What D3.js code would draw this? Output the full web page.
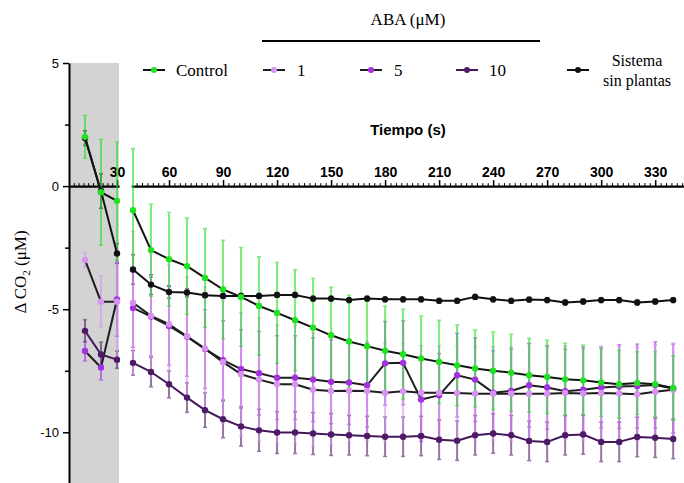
<!DOCTYPE html>
<html lang="es">
<head>
<meta charset="UTF-8">
<title>Delta CO2 - ABA</title>
<script src="https://cdn.jsdelivr.net/npm/d3@7"></script>
<style>
  body { margin: 0; background: #fff; }
  .sans { font-family: "Liberation Sans", Arial, sans-serif; }
  .serif { font-family: "Liberation Serif", "Times New Roman", serif; }
  .axis path, .axis line { stroke: #000; }
</style>
</head>
<body>
<div id="chart"></div>
<script>
// tiempos (s): 10-30 antes del corte del eje, 40-340 despues
const tiempo = [10, 20, 30, 40, 50, 60, 70, 80, 90, 100, 110, 120, 130, 140, 150, 160, 170,
  180, 190, 200, 210, 220, 230, 240, 250, 260, 270, 280, 290, 300, 310, 320, 330, 340];

const control = [2.0, -0.25, -0.6, -0.98, -2.6, -2.97, -3.25, -3.73, -4.2, -4.5, -4.87, -5.15,
  -5.45, -5.75, -6.06, -6.31, -6.5, -6.69, -6.83, -7.0, -7.14, -7.28, -7.41, -7.5, -7.58, -7.68,
  -7.75, -7.85, -7.89, -7.98, -8.05, -8.0, -8.05, -8.2];
const controlErr = [0.87, 2.15, 2.4, 2.5, 1.87, 1.9, 1.95, 2.0, 2.0, 2.0, 2.0, 2.05, 2.05, 2.0,
  1.95, 1.88, 1.87, 1.81, 1.83, 1.72, 1.69, 1.64, 1.56, 1.58, 1.56, 1.5, 1.49, 1.47, 1.43, 1.38,
  1.38, 1.27, 1.32, 1.31];

const aba1 = [-3.0, -4.7, -4.7, -4.74, -5.27, -5.61, -6.1, -6.6, -7.15, -7.64, -7.86, -8.05,
  -8.05, -8.27, -8.32, -8.31, -8.32, -8.39, -8.33, -8.39, -8.39, -8.4, -8.43, -8.43, -8.43, -8.43,
  -8.43, -8.4, -8.42, -8.4, -8.42, -8.45, -8.35, -8.27];
const aba1Err = [0.3, 1.05, 2.4, 2.9, 2.5, 2.4, 2.4, 2.5, 2.5, 2.5, 2.5, 2.4, 2.4, 2.3, 2.2, 2.1,
  2.0, 2.0, 1.95, 1.9, 1.9, 1.9, 1.9, 1.9, 1.9, 1.9, 1.9, 1.9, 1.9, 1.9, 1.9, 1.9, 1.9, 1.9];

const aba5 = [-6.7, -7.37, -4.6, -4.95, -5.3, -5.68, -6.12, -6.62, -7.07, -7.43, -7.6, -7.78,
  -7.78, -7.86, -7.95, -7.98, -8.09, -7.2, -7.18, -8.67, -8.5, -7.68, -7.86, -8.39, -8.32, -8.09,
  -8.18, -8.33, -8.27, -8.18, -8.14, -8.12, -8.08, -8.22];
const aba5Err = [0.4, 0.5, 1.5, 1.6, 1.6, 1.6, 1.6, 1.6, 1.6, 1.6, 1.7, 1.7, 1.7, 1.7, 1.7, 1.7,
  1.7, 1.7, 1.7, 1.7, 1.7, 1.7, 1.7, 1.7, 1.7, 1.7, 1.7, 1.7, 1.7, 1.63, 1.7, 1.7, 1.75, 1.8];

const aba10 = [-5.88, -6.84, -7.05, -7.18, -7.55, -8.05, -8.59, -9.1, -9.47, -9.76, -9.92,
  -10.01, -10.01, -10.05, -10.09, -10.12, -10.15, -10.18, -10.18, -10.15, -10.3, -10.34, -10.12,
  -10.05, -10.12, -10.35, -10.39, -10.12, -10.09, -10.39, -10.39, -10.19, -10.22, -10.27];
const aba10Err = [0.45, 0.5, 0.35, 0.5, 0.6, 0.55, 0.6, 0.7, 0.75, 0.8, 0.85, 0.85, 0.85, 0.85,
  0.85, 0.8, 0.8, 0.8, 0.8, 0.8, 0.8, 0.8, 0.8, 0.8, 0.8, 0.8, 0.8, 0.8, 0.8, 0.8, 0.8, 0.8, 0.8, 0.8];

const sinPlantas = [1.95, -0.2, -2.74, -3.39, -4.0, -4.3, -4.32, -4.43, -4.46, -4.46, -4.46,
  -4.42, -4.42, -4.57, -4.57, -4.63, -4.57, -4.6, -4.6, -4.6, -4.66, -4.66, -4.5, -4.6, -4.66,
  -4.61, -4.63, -4.73, -4.69, -4.63, -4.63, -4.73, -4.69, -4.63];
const sinPlantasErr = [0.3, 0.7, 0.4, 0.6, 0.4, 0.25, 0.15, 0.1, 0.1, 0.1, 0.1, 0.1, 0.1, 0.1,
  0.1, 0.1, 0.1, 0.1, 0.1, 0.1, 0.1, 0.1, 0.1, 0.1, 0.1, 0.1, 0.1, 0.1, 0.1, 0.1, 0.1, 0.1, 0.1, 0.1];

const yMajor = [5, 0, -5, -10];
const yMinor = [2.5, -2.5, -7.5];
const xMajorPre = [30];
const xMajorPost = [60, 90, 120, 150, 180, 210, 240, 270, 300, 330];

const W = 684, H = 483;
const svg = d3.select("#chart").append("svg").attr("width", W).attr("height", H);

// escalas: eje x cortado en dos tramos
const y = d3.scaleLinear().domain([-12.1, 5]).range([484, 63]);
const xPre = d3.scaleLinear().domain([0, 31.25]).range([69, 119]);
const xPost = d3.scaleLinear().domain([39, 346]).range([131.2, 684]);
const x = t => t <= 35 ? xPre(t) : xPost(t);

// zona gris
svg.append("rect")
  .attr("x", xPre(0)).attr("y", y(5))
  .attr("width", xPre(31.25) - xPre(0)).attr("height", H - y(5))
  .attr("fill", "#d3d3d3");

// eje y
const yAxis = svg.append("g").attr("class", "axis sans")
  .attr("transform", `translate(${xPre(0)},0)`)
  .call(d3.axisLeft(y).tickValues(yMajor).tickSize(6).tickSizeOuter(0).tickPadding(4)
    .tickFormat(d => String(d)));
yAxis.select(".domain").attr("stroke-width", 2);
yAxis.selectAll(".tick line").attr("stroke-width", 1.5);
yAxis.selectAll("text").attr("font-size", 13).attr("fill", "#000");
svg.append("g").attr("class", "axis")
  .attr("transform", `translate(${xPre(0)},0)`)
  .call(d3.axisLeft(y).tickValues(yMinor).tickSize(4).tickSizeOuter(0).tickFormat(""))
  .call(g => g.select(".domain").remove())
  .selectAll(".tick line").attr("stroke-width", 1.5);

// eje x (en y = 0), marcas hacia arriba
function xAxis(scale, major, minor) {
  const g = svg.append("g").attr("class", "axis sans")
    .attr("transform", `translate(0,${y(0)})`)
    .call(d3.axisTop(scale).tickValues(major).tickSize(6).tickSizeOuter(0).tickPadding(3));
  g.select(".domain").attr("stroke-width", 2.2);
  g.selectAll(".tick line").attr("stroke-width", 1.5);
  g.selectAll("text").attr("font-size", 14).attr("font-weight", "bold").attr("fill", "#000");
  svg.append("g").attr("class", "axis")
    .attr("transform", `translate(0,${y(0)})`)
    .call(d3.axisTop(scale).tickValues(minor).tickSize(3).tickSizeOuter(0).tickFormat(""))
    .call(g2 => g2.select(".domain").remove())
    .selectAll(".tick line").attr("stroke-width", 1);
}
xAxis(xPre, xMajorPre, d3.range(3, 30, 3));
xAxis(xPost, xMajorPost, d3.range(42, 346, 3).filter(t => t % 30 !== 0));

svg.append("text").attr("class", "sans")
  .attr("x", 408).attr("y", 135).attr("text-anchor", "middle")
  .attr("font-size", 15).attr("font-weight", "bold")
  .text("Tiempo (s)");

// titulo eje y
const yt = svg.append("text").attr("class", "serif")
  .attr("transform", "translate(26,272) rotate(-90)")
  .attr("text-anchor", "middle").attr("font-size", 17);
yt.append("tspan").text("\u0394 CO");
yt.append("tspan").attr("font-size", 11).attr("dy", 4).text("2");
yt.append("tspan").attr("dy", -4).text(" (\u03bcM)");

// series (orden de la leyenda)
const series = [
  {name: "Control", mean: control, err: controlErr, color: "#22e022", line: "#151515"},
  {name: "1", mean: aba1, err: aba1Err, color: "#d793f2", line: "#1e1e1e"},
  {name: "5", mean: aba5, err: aba5Err, color: "#a530e0", line: "#1e1e1e"},
  {name: "10", mean: aba10, err: aba10Err, color: "#4e1a68", line: "#44185a"},
  {name: "Sistema sin plantas", mean: sinPlantas, err: sinPlantasErr, color: "#111111", line: "#111111"}
];
series.forEach(s => {
  s.points = tiempo.map((t, i) => ({t: t, v: s.mean[i], e: s.err[i]}));
});
// orden de dibujo: Control encima
const drawOrder = [series[4], series[3], series[2], series[1], series[0]];

// barras de error
drawOrder.forEach(s => {
  const g = svg.append("g").attr("stroke", s.color).attr("opacity", 0.6);
  g.selectAll("line.bar").data(s.points).join("line")
    .attr("x1", d => x(d.t)).attr("x2", d => x(d.t))
    .attr("y1", d => y(d.v + d.e)).attr("y2", d => y(d.v - d.e))
    .attr("stroke-width", 2);
  [1, -1].forEach(k => {
    g.selectAll(null).data(s.points).join("line")
      .attr("x1", d => x(d.t) - 2).attr("x2", d => x(d.t) + 2)
      .attr("y1", d => y(d.v + k * d.e)).attr("y2", d => y(d.v + k * d.e))
      .attr("stroke-width", 1.5);
  });
});

// lineas (sin unir a traves del corte)
const line = d3.line().x(d => x(d.t)).y(d => y(d.v));
drawOrder.forEach(s => {
  [s.points.filter(d => d.t <= 30), s.points.filter(d => d.t >= 40)].forEach(seg => {
    svg.append("path").datum(seg)
      .attr("fill", "none").attr("stroke", s.line).attr("stroke-width", 2)
      .attr("stroke-linejoin", "round")
      .attr("d", line);
  });
});

// marcadores
drawOrder.forEach(s => {
  svg.append("g").selectAll("circle").data(s.points).join("circle")
    .attr("cx", d => x(d.t)).attr("cy", d => y(d.v)).attr("r", 3.2)
    .attr("fill", s.color);
});

// leyenda
svg.append("text").attr("class", "serif")
  .attr("x", 408).attr("y", 25).attr("text-anchor", "middle").attr("font-size", 17)
  .text("ABA (\u03bcM)");
svg.append("line").attr("x1", 262).attr("x2", 540).attr("y1", 41).attr("y2", 41)
  .attr("stroke", "#000").attr("stroke-width", 2);

const legendPos = [
  {x: 143, tx: 176},
  {x: 263, tx: 297},
  {x: 360, tx: 394},
  {x: 456, tx: 489},
  {x: 567, tx: 637}
];
series.forEach((s, i) => {
  const p = legendPos[i];
  const g = svg.append("g");
  g.append("line").attr("x1", p.x).attr("x2", p.x + 22).attr("y1", 70).attr("y2", 70)
    .attr("stroke", s.line).attr("stroke-width", 2);
  g.append("circle").attr("cx", p.x + 11).attr("cy", 70).attr("r", 3).attr("fill", s.color);
  if (i < 4) {
    g.append("text").attr("class", "serif").attr("x", p.tx).attr("y", 76)
      .attr("font-size", 17).text(s.name);
  } else {
    const t = g.append("text").attr("class", "serif").attr("text-anchor", "middle")
      .attr("font-size", 16);
    t.append("tspan").attr("x", p.tx).attr("y", 66).text("Sistema");
    t.append("tspan").attr("x", p.tx).attr("y", 86).text("sin plantas");
  }
});
</script>
</body>
</html>
